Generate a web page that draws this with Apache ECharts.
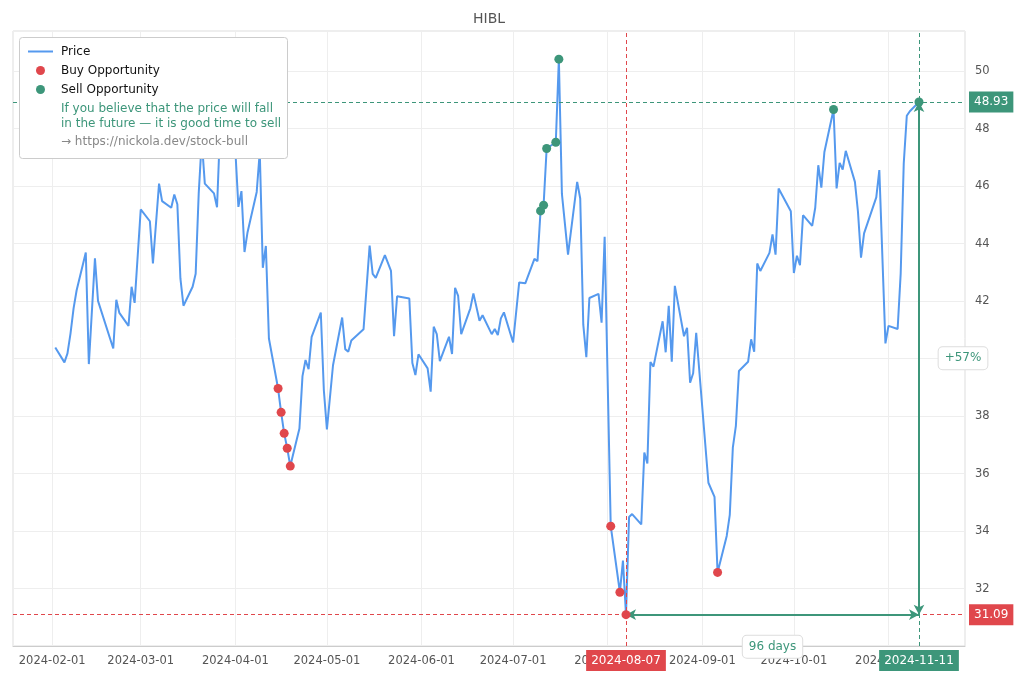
<!DOCTYPE html>
<html>
<head>
<meta charset="utf-8">
<title>HIBL</title>
<script src="https://cdn.jsdelivr.net/npm/echarts@6/dist/echarts.min.js"></script>
<style>
  html, body { margin: 0; padding: 0; background: #fff; }
  #chart { width: 1020px; height: 680px; }
</style>
</head>
<body>
<div id="chart"></div>
<script>
var ticker = 'HIBL';

var dates = [
  '2024-02-02','2024-02-05','2024-02-06','2024-02-07','2024-02-08','2024-02-09','2024-02-12','2024-02-13',
  '2024-02-15','2024-02-16','2024-02-21','2024-02-22','2024-02-23','2024-02-26','2024-02-27','2024-02-28',
  '2024-03-01','2024-03-04','2024-03-05','2024-03-07','2024-03-08','2024-03-11','2024-03-12','2024-03-13',
  '2024-03-14','2024-03-15','2024-03-18','2024-03-19','2024-03-20','2024-03-21','2024-03-22','2024-03-25',
  '2024-03-26','2024-03-27','2024-03-28','2024-04-01','2024-04-02','2024-04-03','2024-04-04','2024-04-05',
  '2024-04-08','2024-04-09','2024-04-10','2024-04-11','2024-04-12','2024-04-15','2024-04-16','2024-04-17',
  '2024-04-18','2024-04-19','2024-04-22','2024-04-23','2024-04-24','2024-04-25','2024-04-26','2024-04-29',
  '2024-04-30','2024-05-01','2024-05-03','2024-05-06','2024-05-07','2024-05-08','2024-05-09','2024-05-13',
  '2024-05-15','2024-05-16','2024-05-17','2024-05-20','2024-05-22','2024-05-23','2024-05-24','2024-05-28',
  '2024-05-29','2024-05-30','2024-05-31','2024-06-03','2024-06-04','2024-06-05','2024-06-06','2024-06-07',
  '2024-06-10','2024-06-11','2024-06-12','2024-06-13','2024-06-14','2024-06-17','2024-06-18','2024-06-20',
  '2024-06-21','2024-06-24','2024-06-25','2024-06-26','2024-06-27','2024-06-28','2024-07-01','2024-07-03',
  '2024-07-05','2024-07-08','2024-07-09','2024-07-10','2024-07-11','2024-07-12','2024-07-15','2024-07-16',
  '2024-07-17','2024-07-19','2024-07-22','2024-07-23','2024-07-24','2024-07-25','2024-07-26','2024-07-29',
  '2024-07-30','2024-07-31','2024-08-02','2024-08-05','2024-08-06','2024-08-07','2024-08-08','2024-08-09',
  '2024-08-12','2024-08-13','2024-08-14','2024-08-15','2024-08-16','2024-08-19','2024-08-20','2024-08-21',
  '2024-08-22','2024-08-23','2024-08-26','2024-08-27','2024-08-28','2024-08-29','2024-08-30','2024-09-03',
  '2024-09-05','2024-09-06','2024-09-09','2024-09-10','2024-09-11','2024-09-12','2024-09-13','2024-09-16',
  '2024-09-17','2024-09-18','2024-09-19','2024-09-20','2024-09-23','2024-09-24','2024-09-25','2024-09-26',
  '2024-09-30','2024-10-01','2024-10-02','2024-10-03','2024-10-04','2024-10-07','2024-10-08','2024-10-09',
  '2024-10-10','2024-10-11','2024-10-14','2024-10-15','2024-10-16','2024-10-17','2024-10-18','2024-10-21',
  '2024-10-22','2024-10-23','2024-10-24','2024-10-28','2024-10-29','2024-10-31','2024-11-01','2024-11-04',
  '2024-11-05','2024-11-06','2024-11-07','2024-11-08','2024-11-11'
];

var prices = [
  40.39, 39.87, 40.18, 40.88, 41.75, 42.38, 43.69, 39.81,
  43.49, 42.01, 40.35, 42.05, 41.59, 41.14, 42.50, 41.94,
  45.19, 44.78, 43.31, 46.09, 45.48, 45.25, 45.71, 45.37,
  42.79, 41.84, 42.50, 42.95, 45.75, 47.60, 46.09, 45.75,
  45.27, 48.00, 47.80, 47.25, 45.28, 45.83, 43.71, 44.40,
  45.80, 47.20, 43.16, 43.92, 40.70, 38.96, 38.13, 37.40,
  36.88, 36.26, 37.57, 39.39, 39.95, 39.63, 40.76, 41.60,
  38.90, 37.54, 39.77, 41.43, 40.33, 40.24, 40.63, 41.02,
  43.93, 42.95, 42.81, 43.60, 43.05, 40.78, 42.17, 42.09,
  39.85, 39.43, 40.15, 39.66, 38.85, 41.11, 40.85, 39.91,
  40.76, 40.16, 42.46, 42.18, 40.85, 41.75, 42.27, 41.32,
  41.51, 40.85, 41.03, 40.82, 41.40, 41.61, 40.56, 42.65,
  42.62, 43.47, 43.39, 45.14, 45.34, 47.31, 47.53, 50.42,
  45.73, 43.62, 46.15, 45.57, 41.18, 40.05, 42.11, 42.25,
  41.25, 44.24, 34.17, 31.87, 32.97, 31.09, 34.49, 34.59,
  34.23, 36.73, 36.35, 39.88, 39.72, 41.30, 40.22, 41.84,
  39.89, 42.53, 40.78, 41.07, 39.16, 39.49, 40.90, 35.68,
  35.19, 32.56, 33.83, 34.56, 36.90, 37.66, 39.57, 39.89,
  40.67, 40.24, 43.31, 43.05, 43.68, 44.32, 43.62, 45.92,
  45.13, 42.98, 43.58, 43.25, 44.99, 44.62, 45.25, 46.73,
  45.95, 47.19, 48.67, 45.92, 46.81, 46.58, 47.23, 46.15,
  45.11, 43.51, 44.36, 45.61, 46.56, 40.53, 41.14, 41.03,
  42.96, 46.79, 48.45, 48.61, 48.93
];

var buyDates = ['2024-04-15','2024-04-16','2024-04-17','2024-04-18','2024-04-19',
                '2024-08-02','2024-08-05','2024-08-07','2024-09-06'];
var sellDates = ['2024-07-10','2024-07-11','2024-07-12','2024-07-15','2024-07-16',
                 '2024-10-14','2024-11-11'];

var entryDate = '2024-08-07';
var exitDate = '2024-11-11';

var legendNote = ['If you believe that the price will fall', 'in the future \u2014 it is good time to sell'];
var legendLink = '\u2192 https://nickola.dev/stock-bull';

var colBlue = '#5599ee';
var colRed = '#e0474c';
var colGreen = '#3d967a';
var DAY = 86400000;

function priceAt(d) {
  return prices[dates.indexOf(d)];
}
function pairs(list) {
  return list.map(function (d) { return [d, priceAt(d)]; });
}

var priceData = dates.map(function (d, i) { return [d, prices[i]]; });
var entryPrice = priceAt(entryDate);
var exitPrice = priceAt(exitDate);
var midPrice = (entryPrice + exitPrice) / 2;
var t0 = echarts.time.parse(entryDate).getTime();
var t1 = echarts.time.parse(exitDate).getTime();
var days = Math.round((t1 - t0) / DAY);
var pct = Math.round((exitPrice / entryPrice - 1) * 100);

var chart = echarts.init(document.getElementById('chart'), null, { renderer: 'canvas' });

var boxLabel = function (bg, txt) {
  return {
    show: true,
    formatter: txt,
    color: '#fff',
    backgroundColor: bg,
    padding: [5, 5, 4, 5],
    fontSize: 12
  };
};

var option = {
  animation: false,
  backgroundColor: '#fff',
  textStyle: { fontFamily: 'DejaVu Sans, sans-serif' },
  grid: { left: 13, right: 55, top: 31, bottom: 34, show: true, borderColor: '#dddddd', borderWidth: 1 },
  graphic: [
    {
      type: 'text', x: 489, y: 19, z: 20,
      style: { text: ticker, fill: '#555', font: '14px DejaVu Sans, sans-serif', textAlign: 'center', textVerticalAlign: 'middle' }
    },
    {
      type: 'rect', x: 19.5, y: 37.5, z: 10,
      shape: { width: 268, height: 121, r: 3 },
      style: { fill: '#fff', stroke: '#cccccc', lineWidth: 1 }
    },
    {
      type: 'text', x: 61, y: 101, z: 11,
      style: { text: legendNote.join('\n'), fill: colGreen, font: '12px DejaVu Sans, sans-serif', lineHeight: 15 }
    },
    {
      type: 'text', x: 61, y: 135, z: 11,
      style: { text: legendLink, fill: '#888', font: '12px DejaVu Sans, sans-serif', lineHeight: 14 }
    }
  ],
  legend: {
    orient: 'vertical',
    left: 28,
    top: 42,
    padding: 0,
    itemGap: 0,
    itemWidth: 25,
    itemHeight: 9,
    z: 12,
    textStyle: { fontSize: 12, color: '#111', lineHeight: 19, padding: [0, 0, 0, 3] },
    data: [
      { name: 'Price', icon: 'path://M0,0 L25,0 L25,2 L0,2 Z' },
      'Buy Opportunity',
      'Sell Opportunity'
    ]
  },
  xAxis: {
    type: 'time',
    min: function (v) { return v.min - 13.85 * DAY; },
    max: function (v) { return v.max + 15.07 * DAY; },
    splitNumber: 10,
    maxInterval: 31 * DAY,
    axisLine: { lineStyle: { color: '#cccccc' } },
    axisTick: { show: false },
    splitLine: { show: true, lineStyle: { color: '#eeeeee' } },
    axisLabel: { formatter: '{yyyy}-{MM}-{dd}', color: '#555', fontSize: 11.5, margin: 9, hideOverlap: false }
  },
  yAxis: {
    type: 'value',
    position: 'right',
    min: 30,
    max: 51.4,
    interval: 2,
    axisLine: { show: false },
    axisTick: { show: false },
    splitLine: { show: true, lineStyle: { color: '#eeeeee' } },
    axisLabel: {
      color: '#555', fontSize: 11.5, margin: 10, showMinLabel: false, showMaxLabel: false,
      // the percent badge sits over this tick label
      formatter: function (v) { return Math.abs(v - midPrice) < 0.6 ? '' : String(v); }
    }
  },
  series: [
    {
      name: 'Price',
      type: 'line',
      data: priceData,
      symbol: 'none',
      color: colBlue,
      lineStyle: { width: 2, color: colBlue },
      z: 3,
      markLine: {
        silent: true,
        symbol: 'none',
        animation: false,
        data: [
          { yAxis: exitPrice, lineStyle: { color: colGreen, type: [4, 3], width: 1 },
            label: Object.assign(boxLabel(colGreen, exitPrice.toFixed(2)), { position: 'end', distance: 4 }) },
          { yAxis: entryPrice, lineStyle: { color: colRed, type: [4, 3], width: 1 },
            label: Object.assign(boxLabel(colRed, entryPrice.toFixed(2)), { position: 'end', distance: 4 }) },
          { xAxis: entryDate, lineStyle: { color: colRed, type: [4, 3], width: 1 },
            label: Object.assign(boxLabel(colRed, entryDate), { position: 'start', distance: 4 }) },
          { xAxis: exitDate, lineStyle: { color: colGreen, type: [4, 3], width: 1 },
            label: Object.assign(boxLabel(colGreen, exitDate), { position: 'start', distance: 4 }) },
          [
            { coord: [entryDate, entryPrice], symbol: 'arrow', symbolSize: [8, 10],
              lineStyle: { color: colGreen, type: 'solid', width: 2 }, label: { show: false } },
            { coord: [exitDate, entryPrice], symbol: 'arrow', symbolSize: [8, 10] }
          ],
          [
            { coord: [exitDate, entryPrice], symbol: 'arrow', symbolSize: [8, 10],
              lineStyle: { color: colGreen, type: 'solid', width: 2 }, label: { show: false } },
            { coord: [exitDate, exitPrice], symbol: 'arrow', symbolSize: [8, 10] }
          ]
        ]
      },
      markPoint: {
        silent: true,
        symbol: 'circle',
        symbolSize: 0,
        animation: false,
        label: {
          show: true,
          color: colGreen,
          fontSize: 12,
          backgroundColor: '#fff',
          borderColor: '#dddddd',
          borderWidth: 1,
          borderRadius: 4,
          padding: [5, 6, 5, 6]
        },
        data: [
          { coord: [(t0 + t1) / 2, entryPrice], label: { formatter: days + ' days', offset: [0, 32] } },
          { coord: [exitDate, midPrice], label: { formatter: '+' + pct + '%', offset: [44, 0] } }
        ]
      }
    },
    {
      name: 'Buy Opportunity',
      type: 'scatter',
      data: pairs(buyDates),
      symbolSize: 9,
      color: colRed,
      itemStyle: { color: colRed, opacity: 1 },
      z: 5
    },
    {
      name: 'Sell Opportunity',
      type: 'scatter',
      data: pairs(sellDates),
      symbolSize: 9,
      color: colGreen,
      itemStyle: { color: colGreen, opacity: 1 },
      z: 5
    }
  ]
};

chart.setOption(option);
</script>
</body>
</html>
